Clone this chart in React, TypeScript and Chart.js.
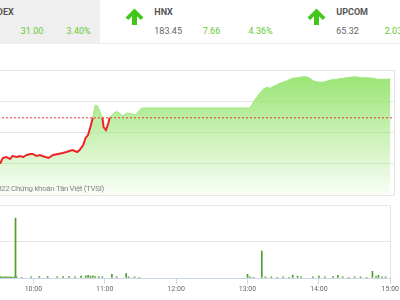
import { useEffect, useRef } from "react";
import { Chart, registerables } from "chart.js";
Chart.register(...registerables);

// ---- header data ----
const indexNames = ["VN-INDEX", "HNX", "UPCOM"];
const indexValues = ["942.76", "183.45", "65.32"];
const indexChanges = ["31.00", "7.66", "2.03"];
const indexPercents = ["3.40%", "4.36%", "3.21%"];

// ---- price data ----
const REF = 911.76;
const priceTimes = [
  "09:15", "09:32", "09:34", "09:37", "09:40", "09:42", "09:46", "09:48", "09:51", "09:54",
  "09:57", "09:59", "10:02", "10:05", "10:07", "10:12", "10:16", "10:20", "10:24", "10:27",
  "10:32", "10:36", "10:38", "10:41", "10:43", "10:45", "10:47", "10:49", "10:51", "10:53",
  "10:55", "10:57", "10:58", "11:00", "11:02", "11:03", "11:05", "11:07", "11:09", "11:12",
  "11:14", "11:16", "11:18", "11:22", "11:24", "11:27", "11:28", "11:30", "13:00", "13:03",
  "13:07", "13:11", "13:14", "13:17", "13:19", "13:25", "13:31", "13:35", "13:40", "13:44",
  "13:47", "13:50", "13:53", "13:57", "14:01", "14:07", "14:12", "14:18", "14:23", "14:28",
  "14:32", "14:37", "14:43", "14:46", "14:51", "14:57",
];
const priceValues = [
  876.4, 875.6, 879.6, 880.4, 878.8, 881.2, 880.4, 881.2, 880.4, 882.0,
  882.8, 882.8, 881.2, 882.0, 881.2, 879.6, 882.0, 882.8, 883.6, 884.4,
  886.0, 884.4, 886.0, 890.0, 895.6, 898.0, 904.4, 911.76, 922.0, 921.2,
  916.4, 911.76, 904.4, 902.0, 907.6, 911.76, 914.0, 916.0, 916.8, 914.8,
  913.2, 914.8, 915.6, 914.8, 914.0, 916.4, 918.0, 919.6, 919.6, 924.6,
  930.0, 934.6, 936.2, 935.4, 936.6, 939.4, 941.4, 943.4, 943.8, 944.6,
  944.6, 943.4, 941.2, 940.4, 940.2, 942.0, 942.6, 943.4, 944.2, 944.6,
  943.8, 943.8, 943.4, 942.6, 942.6, 942.76,
];

// ---- volume data ----
const volTimes = [
  "09:32", "09:33", "09:34", "09:35", "09:36", "09:37", "09:38", "09:39", "09:40", "09:41",
  "09:42", "09:43", "09:44", "09:45", "09:46", "09:50", "09:58", "10:05", "10:12", "10:20",
  "10:25", "10:30", "10:35", "10:40", "10:44", "10:46", "10:48", "10:50", "10:52", "10:55",
  "10:58", "11:06", "11:10", "11:18", "11:20", "11:25", "11:29",
  "13:00", "13:02", "13:05", "13:12", "13:15", "13:20", "13:25", "13:30", "13:35", "13:38",
  "13:42", "13:45", "13:55", "14:00", "14:05", "14:12", "14:16", "14:20", "14:25", "14:30",
  "14:35", "14:40", "14:45", "14:48", "14:50", "14:53", "14:56",
];
const volValues = [
  0.03, 0.03, 0.02, 0.03, 0.02, 0.03, 0.02, 0.03, 0.02, 0.03,
  0.02, 0.02, 0.03, 1.64, 0.03, 0.02, 0.03, 0.04, 0.04, 0.03,
  0.04, 0.04, 0.03, 0.05, 0.06, 0.07, 0.05, 0.06, 0.04, 0.04,
  0.03, 0.1, 0.03, 0.12, 0.03, 0.03, 0.02,
  0.1, 0.03, 0.02, 0.74, 0.03, 0.03, 0.02, 0.03, 0.02, 0.08,
  0.05, 0.03, 0.03, 0.05, 0.03, 0.04, 0.07, 0.03, 0.02, 0.03,
  0.03, 0.02, 0.18, 0.04, 0.07, 0.03, 0.03,
];
const hourTicks = ["10:00", "11:00", "12:00", "13:00", "14:00", "15:00"];

const toMin = (t: string) => {
  const [h, m] = t.split(":").map(Number);
  return h * 60 + m;
};
const fmt = (v: number) => {
  const h = Math.floor(v / 60);
  const m = Math.round(v - h * 60);
  return `${String(h).padStart(2, "0")}:${String(m).padStart(2, "0")}`;
};

const GREEN_TEXT = "#66c933";
const FONT = "Roboto, 'Liberation Sans', sans-serif";

const rightBorder = {
  id: "rightBorder",
  afterDraw(chart: any) {
    const { ctx, chartArea } = chart;
    ctx.save();
    ctx.strokeStyle = "#e3e3e3";
    ctx.lineWidth = 1;
    ctx.beginPath();
    ctx.moveTo(Math.round(chartArea.right) + 0.5, chartArea.top);
    ctx.lineTo(Math.round(chartArea.right) + 0.5, chartArea.bottom);
    ctx.stroke();
    ctx.restore();
  },
};

function PriceChart() {
  const ref = useRef<HTMLCanvasElement>(null);
  useEffect(() => {
    const points = priceTimes.map((t, i) => ({ x: toMin(t), y: priceValues[i] }));
    const below = (c: any) => c.p0.parsed.y < REF - 0.01 || c.p1.parsed.y < REF - 0.01;
    const chart = new Chart(ref.current!, {
      type: "line",
      data: {
        datasets: [
          {
            data: [
              { x: 540, y: REF },
              { x: 900, y: REF },
            ],
            borderColor: "#e53935",
            borderWidth: 1,
            borderDash: [2, 2],
            pointRadius: 0,
            fill: false,
          },
          {
            data: points,
            borderWidth: 2,
            pointRadius: 0,
            tension: 0,
            fill: false,
            borderColor: "#9ee57e",
            segment: {
              borderColor: (c: any) => (below(c) ? "#ee2424" : "#9ee57e"),
              borderWidth: (c: any) => (below(c) ? 2 : 1),
            },
          },
          {
            data: points,
            borderWidth: 0,
            borderColor: "rgba(0,0,0,0)",
            pointRadius: 0,
            tension: 0,
            fill: "start",
            backgroundColor: (c: any) => {
              const { chart } = c;
              const area = chart.chartArea;
              if (!area) return "rgba(150,228,110,0.5)";
              const g = chart.ctx.createLinearGradient(0, area.top, 0, area.bottom);
              g.addColorStop(0, "rgba(150,228,110,1)");
              g.addColorStop(1, "rgba(150,228,110,0.05)");
              return g;
            },
          },
        ],
      },
      options: {
        animation: false,
        responsive: false,
        events: [],
        layout: { padding: { top: 5, bottom: 5, left: 0, right: 6 } },
        plugins: { legend: { display: false }, tooltip: { enabled: false } },
        scales: {
          x: { type: "linear", min: 540, max: 900, display: false },
          y: {
            min: 850,
            max: 950,
            ticks: { display: false, stepSize: 25 },
            grid: { color: "#e6e6e6", drawTicks: false },
            border: { display: false },
            afterFit: (s: any) => {
              s.width = 0;
            },
          },
        },
      },
      plugins: [rightBorder],
    });
    return () => chart.destroy();
  }, []);
  return (
    <canvas
      ref={ref}
      width={438}
      height={135}
      style={{ position: "absolute", left: -38, top: 65, width: 438, height: 135 }}
    />
  );
}

function VolumeChart() {
  const ref = useRef<HTMLCanvasElement>(null);
  useEffect(() => {
    const chart = new Chart(ref.current!, {
      type: "bar",
      data: {
        datasets: [
          {
            data: volTimes.map((t, i) => ({ x: toMin(t), y: volValues[i] })) as any,
            backgroundColor: "#4f9c2c",
            borderWidth: 0,
            barThickness: 1,
          },
        ],
      },
      options: {
        animation: false,
        responsive: false,
        events: [],
        layout: { padding: { top: 5, bottom: 0, left: 0, right: 6 } },
        plugins: { legend: { display: false }, tooltip: { enabled: false } },
        scales: {
          x: {
            type: "linear",
            min: 540,
            max: 900,
            offset: false,
            afterBuildTicks: (s: any) => {
              s.ticks = hourTicks.map((t) => ({ value: toMin(t) }));
            },
            ticks: {
              callback: (v: any) => fmt(Number(v)),
              font: { family: FONT, size: 7 },
              color: "#666666",
              padding: 1,
              maxRotation: 0,
              autoSkip: false,
            },
            grid: { drawOnChartArea: false, tickLength: 6, color: "#ccd6eb", offset: false },
            border: { color: "#ccd6eb" },
            afterFit: (s: any) => {
              s.height = 22;
            },
          },
          y: {
            min: 0,
            max: 2,
            ticks: { display: false, stepSize: 1 },
            grid: { color: "#e6e6e6", drawTicks: false },
            border: { display: false },
            afterFit: (s: any) => {
              s.width = 0;
            },
          },
        },
      },
      plugins: [rightBorder],
    });
    return () => chart.destroy();
  }, []);
  return (
    <canvas
      ref={ref}
      width={438}
      height={100}
      style={{ position: "absolute", left: -38, top: 200, width: 438, height: 100 }}
    />
  );
}

function Arrow({ left }: { left: number }) {
  return (
    <svg
      width={20}
      height={18}
      viewBox="0 0 20 18"
      style={{ position: "absolute", left, top: 8 }}
    >
      <path
        d="M9.5 0.5 L18.5 9.5 L15.8 12 L12 8.2 L12 17 L7 17 L7 8.2 L3.2 12 L0.5 9.5 Z"
        fill="#43c61c"
      />
    </svg>
  );
}

function Header() {
  const txt = (left: number, top: number, s: string, color: string, bold = false) => (
    <div
      style={{
        position: "absolute",
        left,
        top,
        fontSize: 9,
        lineHeight: "9px",
        fontWeight: bold ? 700 : 400,
        color,
        whiteSpace: "nowrap",
        fontFamily: FONT,
      }}
    >
      {s}
    </div>
  );
  return (
    <>
      <div style={{ position: "absolute", left: 0, top: 0, width: 100, height: 43, background: "#efefef" }} />
      <div style={{ position: "absolute", left: 0, top: 43, width: 400, height: 1, background: "#ececec" }} />
      {indexNames.map((n, i) => {
        const b = -82 + 182 * i;
        return (
          <div key={n}>
            <Arrow left={b + 24.5} />
            {txt(b + 54.3, 8.2, n, "#555555", true)}
            {txt(b + 54.3, 26.6, indexValues[i], i === 0 ? "#4a8fd6" : "#666666")}
            {txt(b + 102.7, 26.6, indexChanges[i], GREEN_TEXT)}
            {txt(b + 148.5, 26.6, indexPercents[i], GREEN_TEXT)}
          </div>
        );
      })}
    </>
  );
}

export default function App() {
  return (
    <div
      style={{
        position: "fixed",
        left: 0,
        top: 0,
        width: 400,
        height: 300,
        overflow: "hidden",
        background: "#ffffff",
        fontFamily: FONT,
      }}
    >
      <Header />
      <PriceChart />
      <VolumeChart />
      <div
        style={{
          position: "absolute",
          right: 296,
          top: 184,
          fontSize: 8,
          lineHeight: "9px",
          letterSpacing: -0.35,
          color: "#888888",
          whiteSpace: "nowrap",
          fontFamily: FONT,
        }}
      >
        © 2022 Chứng khoán Tân Việt (TVSI)
      </div>
    </div>
  );
}
